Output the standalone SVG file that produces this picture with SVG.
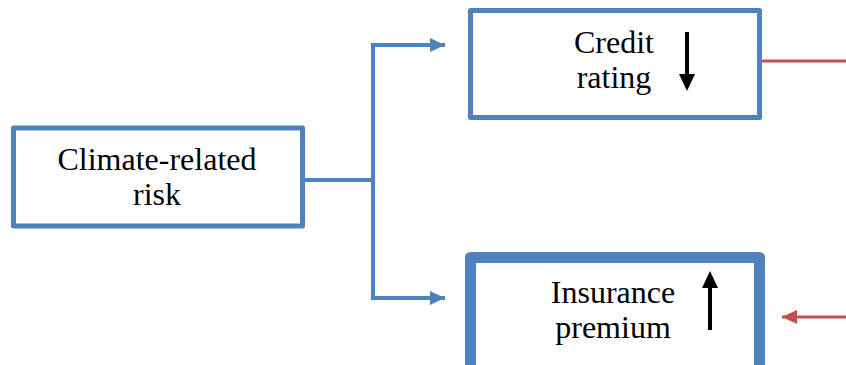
<svg xmlns="http://www.w3.org/2000/svg" width="846" height="365" viewBox="0 0 846 365">
<style>
.box{fill:#fff;stroke:#4F81BD;stroke-linejoin:round}
.t{font-family:"Liberation Serif","Times New Roman",serif;font-size:32px;fill:#000;text-anchor:middle}
.blue{fill:none;stroke:#4F81BD;stroke-width:4}
.red{fill:none;stroke:#C0504D;stroke-width:3}
.trend{fill:#000}
</style>
<defs>
<marker id="ab" markerUnits="userSpaceOnUse" markerWidth="16" markerHeight="14" refX="15" refY="7" orient="auto"><path d="M0,0L15,7L0,14Z" fill="#4F81BD"/></marker>
<marker id="ar" markerUnits="userSpaceOnUse" markerWidth="16" markerHeight="14" refX="15" refY="7" orient="auto"><path d="M0,0L15,7L0,14Z" fill="#C0504D"/></marker>
</defs>
<g id="connectors">
<polyline class="blue" points="304,180 373,180"/>
<polyline class="blue" points="373,298 373,45 445,45" marker-end="url(#ab)"/>
<polyline class="blue" points="373,180 373,298 445,298" marker-end="url(#ab)"/>
<line class="red" x1="762" y1="61" x2="846" y2="61"/>
<line class="red" x1="846" y1="317" x2="782" y2="317" marker-end="url(#ar)"/>
</g>
<g id="climate">
<rect class="box" x="13.5" y="128" width="289" height="98" stroke-width="5"/>
<text class="t" x="157" y="170">Climate-related</text>
<text class="t" x="157" y="205">risk</text>
</g>
<g id="credit">
<rect class="box" x="470.5" y="10.5" width="289" height="107" stroke-width="5"/>
<text class="t" x="614" y="53">Credit</text>
<text class="t" x="614" y="88">rating</text>
<path class="trend" d="M685,32H689V74H695L687,91L679,74H685Z"/>
</g>
<g id="insurance">
<rect class="box" x="470.5" y="257.5" width="289" height="115" stroke-width="11"/>
<text class="t" x="613" y="303">Insurance</text>
<text class="t" x="613" y="338">premium</text>
<path class="trend" d="M708,330H712V288H718L710,271L702,288H708Z"/>
</g>
</svg>
